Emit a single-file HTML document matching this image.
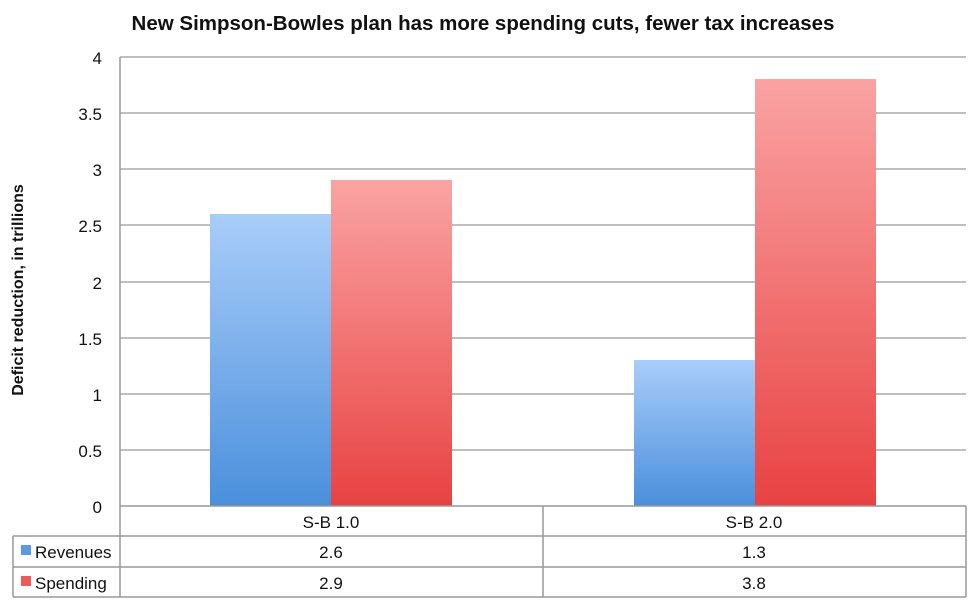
<!DOCTYPE html>
<html><head><meta charset="utf-8"><style>
body{margin:0;background:#fff;}
svg text{font-family:"Liberation Sans",sans-serif;fill:#111;}
</style></head><body>
<svg width="980" height="603" xmlns="http://www.w3.org/2000/svg">
<defs>
<linearGradient id="b" x1="0" y1="0" x2="0" y2="1"><stop offset="0" stop-color="#a9cdf9"/><stop offset="1" stop-color="#4a8fdc"/></linearGradient>
<linearGradient id="r" x1="0" y1="0" x2="0" y2="1"><stop offset="0" stop-color="#faa3a3"/><stop offset="1" stop-color="#e84242"/></linearGradient>
</defs>
<text x="483" y="30" font-size="20.5" font-weight="bold" text-anchor="middle">New Simpson-Bowles plan has more spending cuts, fewer tax increases</text>
<g stroke="#aaa" stroke-width="1.5">
<line x1="120" y1="57" x2="966" y2="57"/>
<line x1="120" y1="113" x2="966" y2="113"/>
<line x1="120" y1="169" x2="966" y2="169"/>
<line x1="120" y1="225" x2="966" y2="225"/>
<line x1="120" y1="282" x2="966" y2="282"/>
<line x1="120" y1="338" x2="966" y2="338"/>
<line x1="120" y1="394" x2="966" y2="394"/>
<line x1="120" y1="450" x2="966" y2="450"/>
</g>
<rect x="210" y="214" width="121" height="292" fill="url(#b)"/>
<rect x="331" y="180" width="121" height="326" fill="url(#r)"/>
<rect x="634" y="360" width="121" height="146" fill="url(#b)"/>
<rect x="755" y="79" width="121" height="427" fill="url(#r)"/>
<g stroke="#999" stroke-width="1.5" fill="none">
<line x1="120" y1="506" x2="966" y2="506"/>
<line x1="120" y1="57" x2="120" y2="597"/>
<line x1="966" y1="506" x2="966" y2="597"/>
<line x1="543" y1="506" x2="543" y2="597"/>
<line x1="13" y1="536" x2="966" y2="536"/>
<line x1="13" y1="567" x2="966" y2="567"/>
<line x1="13" y1="597" x2="966" y2="597"/>
<line x1="13" y1="536" x2="13" y2="597"/>
</g>
<g font-size="17" text-anchor="end">
<text x="102" y="64">4</text><text x="102" y="120">3.5</text><text x="102" y="176">3</text>
<text x="102" y="232">2.5</text><text x="102" y="289">2</text><text x="102" y="345">1.5</text>
<text x="102" y="401">1</text><text x="102" y="457">0.5</text><text x="102" y="513">0</text>
</g>
<text transform="translate(23,290) rotate(-90)" font-size="16" font-weight="bold" text-anchor="middle">Deficit reduction, in trillions</text>
<g font-size="17" text-anchor="middle">
<text x="331" y="528">S-B 1.0</text><text x="754" y="528">S-B 2.0</text>
<text x="331" y="558">2.6</text><text x="754" y="558">1.3</text>
<text x="331" y="589">2.9</text><text x="754" y="589">3.8</text>
</g>
<rect x="21" y="545" width="10" height="10" fill="#5a9ae0"/>
<rect x="21" y="576" width="10" height="10" fill="#ec5a5a"/>
<g font-size="17"><text x="35" y="558">Revenues</text><text x="35" y="589">Spending</text></g>
</svg>
</body></html>
